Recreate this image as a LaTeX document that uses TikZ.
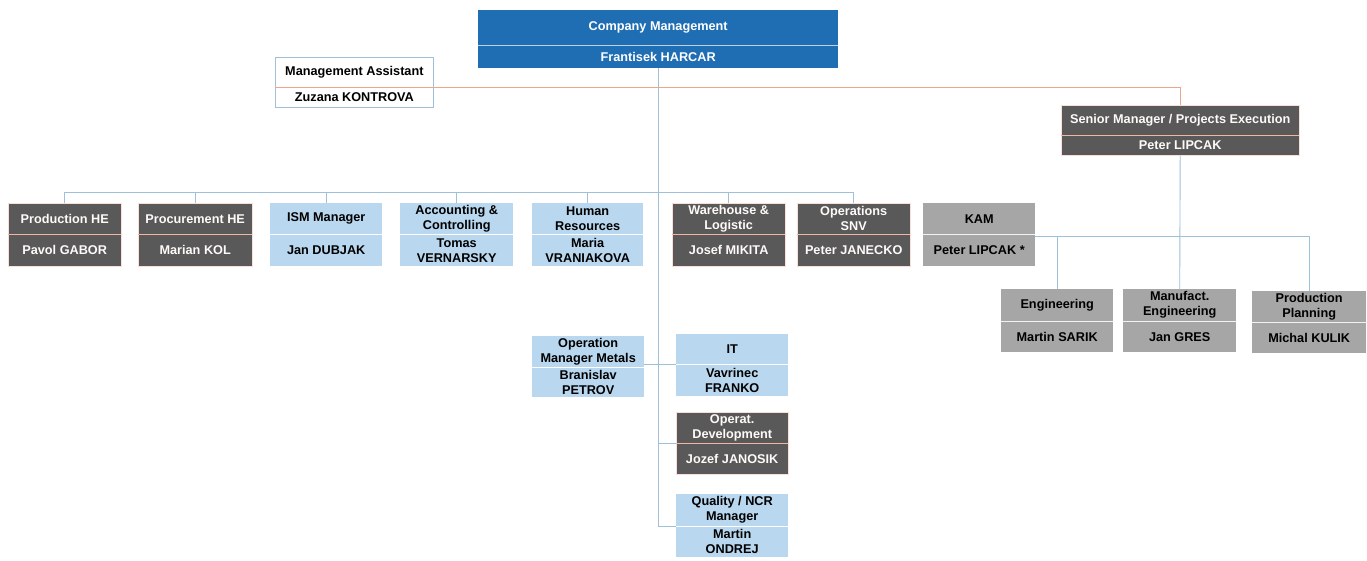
\documentclass[tikz,border=0pt]{standalone}
\usepackage{fontspec}
\setmainfont{Liberation Sans}
\definecolor{cmblue}{HTML}{1F6DB3}
\definecolor{dgray}{HTML}{595959}
\definecolor{lgray}{HTML}{A6A6A6}
\definecolor{lblue}{HTML}{B9D7EE}
\definecolor{conn}{HTML}{9EC0D8}
\definecolor{salm}{HTML}{EFA58C}
\tikzset{
  part/.style={anchor=north west, inner sep=0pt, align=center,
    font=\bfseries\fontsize{12.7}{15}\selectfont},
  dark/.style={part, fill=dgray, text=white!94!salm, draw=salm!35, line width=0.4pt},
  dark div/.style={draw=salm!80, line width=1pt},
  light/.style={part, fill=lblue, text=black},
  light div/.style={draw=white, line width=1.5pt},
  gray/.style={part, fill=lgray, text=black},
  gray div/.style={draw=white!85!lgray, line width=1.5pt},
  cmbox/.style={part, fill=cmblue, text=white},
  cmbox div/.style={draw=white!70!cmblue, line width=1pt},
  wbox/.style={part, fill=white, text=black, draw=conn, line width=0.8pt},
  wbox div/.style={draw=salm, line width=0.8pt},
  link/.style={draw=conn, line width=0.9pt},
  slink/.style={draw=salm, line width=0.9pt},
}
% name, x1, y1, ydiv, x2, y2, style, top, bottom
\newcommand\obox[9]{%
  \node[#7, minimum width={#5-#2}, minimum height={#4-#3}] (#1-t) at (#2,#3) {#8};
  \node[#7, minimum width={#5-#2}, minimum height={#6-#4}] (#1-b) at (#2,#4) {#9};
  \draw[#7 div] (#1-t.south west) -- (#1-t.south east);
}
\begin{document}
\begin{tikzpicture}[x=1pt,y=-1pt]
\useasboundingbox[fill=white] (0,0) rectangle (1367,560);
\coordinate (bus) at (0,192);
\coordinate (kbus) at (0,236);
\obox{cm}{478}{10}{45}{838}{68}{cmbox}{Company Management}{Frantisek HARCAR}
\obox{ma}{275}{57}{87}{433}{107}{wbox}{Management Assistant}{Zuzana KONTROVA}
\obox{sm}{1061}{105}{135}{1299}{155}{dark}{Senior Manager / Projects Execution}{Peter LIPCAK}
\obox{prod}{8}{203}{234}{121}{266}{dark}{Production HE}{Pavol GABOR}
\obox{proc}{138}{203}{234}{252}{266}{dark}{Procurement HE}{Marian KOL}
\obox{ism}{270}{203}{234}{382}{266}{light}{ISM Manager}{Jan DUBJAK}
\obox{acc}{400}{203}{234}{513}{266}{light}{Accounting \&\\Controlling}{Tomas\\VERNARSKY}
\obox{hr}{532}{203}{234}{643}{266}{light}{Human\\Resources}{Maria\\VRANIAKOVA}
\obox{wh}{672}{203}{234}{785}{266}{dark}{Warehouse \&\\Logistic}{Josef MIKITA}
\obox{ops}{797}{203}{234}{910}{266}{dark}{Operations\\SNV}{Peter JANECKO}
\obox{kam}{923}{203}{234}{1035}{266}{gray}{KAM}{Peter LIPCAK *}
\obox{eng}{1001}{289}{321}{1113}{352}{gray}{Engineering}{Martin SARIK}
\obox{mfe}{1123}{289}{321}{1236}{352}{gray}{Manufact.\\Engineering}{Jan GRES}
\obox{plan}{1252}{291}{322}{1366}{353}{gray}{Production\\Planning}{Michal KULIK}
\obox{opm}{532}{336}{367}{644}{397}{light}{Operation\\Manager Metals}{Branislav\\PETROV}
\obox{it}{676}{334}{364}{788}{396}{light}{IT}{Vavrinec\\FRANKO}
\obox{odev}{676}{412}{443}{788}{474}{dark}{Operat.\\Development}{Jozef JANOSIK}
\obox{qual}{676}{494}{526}{788}{557}{light}{Quality / NCR\\Manager}{Martin\\ONDREJ}
% connectors
\draw[link] (cm-b.south) |- (qual-t.south west);
\draw[link] (cm-b.south |- odev-t.south west) -- (odev-t.south west);
\draw[link] (opm-t.east |- it-t.south west) -- (it-t.south west);
\draw[slink] (ma-t.south east) -| (sm-t.north);
\draw[link] (sm-b.south) -- (mfe-t.north);
\draw[link] (prod-t.north) -- (prod-t.north |- bus) -| (ops-t.north);
\foreach \n in {proc,ism,acc,hr,wh}{
  \draw[link] (\n-t.north) -- (\n-t.north |- bus);
}
\draw[link] (kam-t.east |- kbus) -| (plan-t.north);
\draw[link] (eng-t.north |- kbus) -- (eng-t.north);
\end{tikzpicture}
\end{document}
